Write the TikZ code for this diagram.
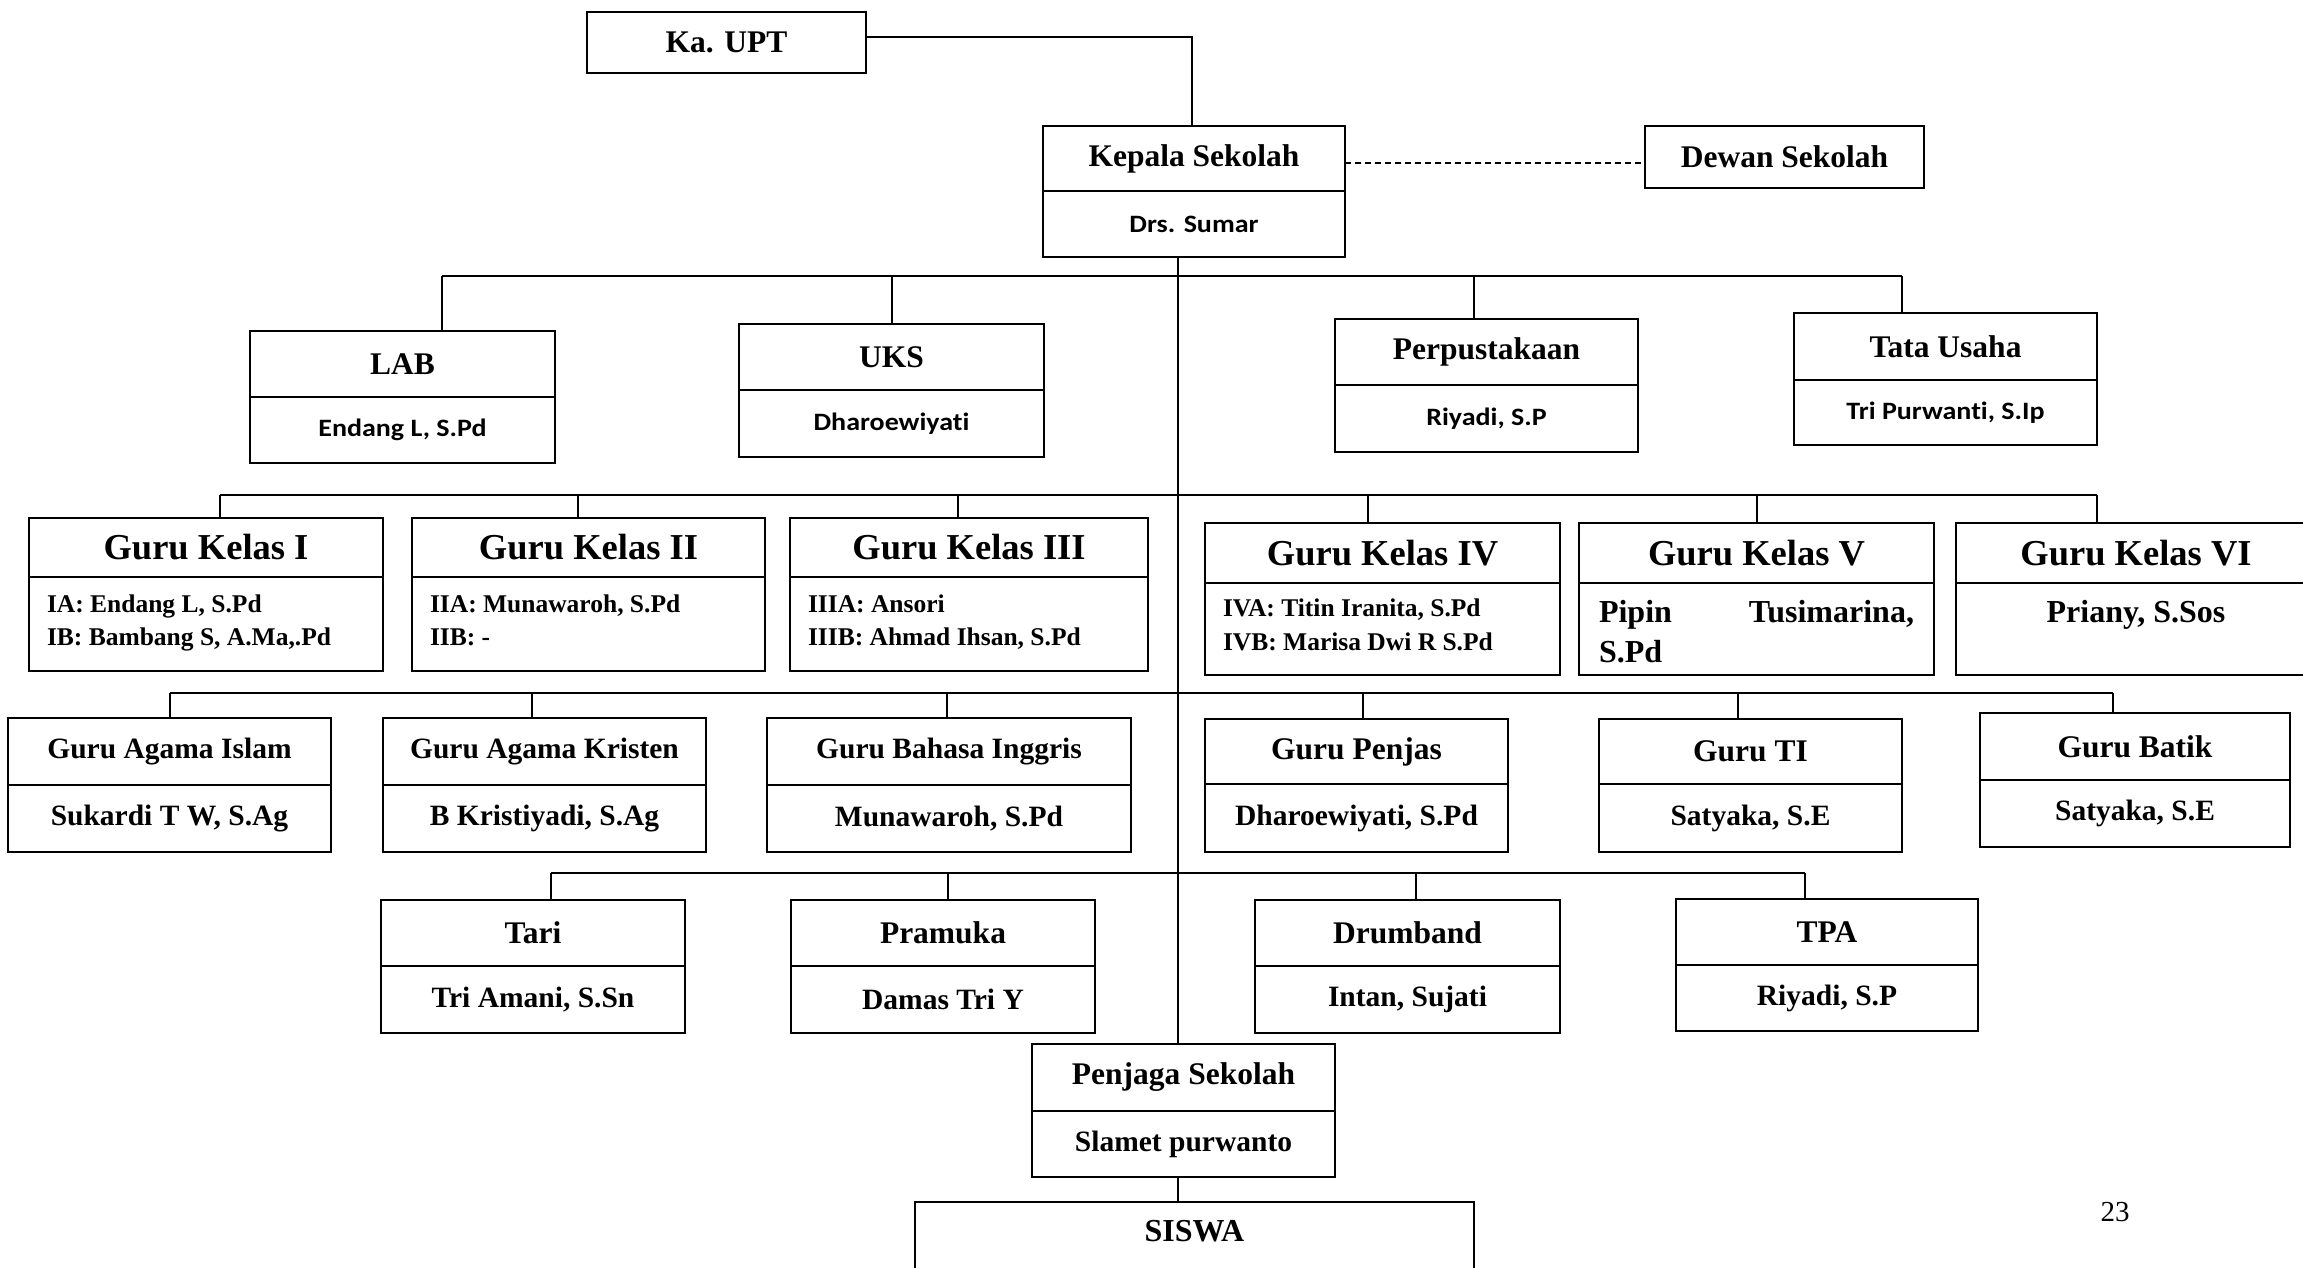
\documentclass[tikz,border=0pt]{standalone}
\usepackage{fontspec}
\setmainfont{Liberation Serif}
\newfontfamily\sansf{Carlito}[FakeStretch=1.12, Ligatures={NoCommon,NoDiscretionary}]
\newcommand{\myfs}[2]{\fontsize{#1}{#2}\selectfont}
\begin{document}
\begin{tikzpicture}[x=1pt,y=-1pt,
  bx/.style={draw, line width=2.4pt, inner sep=0pt, outer sep=0pt, align=center, anchor=north west},
  hd/.style={bx, font=\bfseries\myfs{31.5}{36}},
  hs/.style={bx, font=\bfseries\myfs{29.5}{34}},
  nm/.style={bx, anchor=north, font=\bfseries\myfs{29.5}{34}},
  sn/.style={bx, anchor=north, font=\sansf\bfseries\myfs{25}{30}},
  kh/.style={bx, font=\bfseries\myfs{36.5}{42}},
  kc/.style={bx, anchor=north, align=left},
  ln/.style={line width=2.8pt},
  dr/.style={line width=2pt}]
\useasboundingbox (0,0) rectangle (2303,1268);

% top
\node[hd, minimum width=279pt, minimum height=61pt] (kaupt) at (587,12) {Ka. UPT};
\node[hd, minimum width=302pt, minimum height=65pt] (kepala) at (1043,126) {Kepala Sekolah};
\node[sn, minimum width=302pt, minimum height=66pt] (sumar) at (kepala.south) {Drs. Sumar};
\node[hd, minimum width=279pt, minimum height=62pt] (dewan) at (1645,126) {Dewan Sekolah};
\draw[dr] ([yshift=5.5pt]kaupt.east) -| ([xshift=-2pt]kepala.north);
\draw[dr, dash pattern=on 6pt off 4pt] ([yshift=-4.5pt]kepala.east) -- ([yshift=-4.5pt]kepala.east -| dewan.west);

% row 1
\node[hd, minimum width=305pt, minimum height=66pt] (lab) at (250,331) {LAB};
\node[sn, minimum width=305pt, minimum height=66pt] (labn) at (lab.south) {Endang L, S.Pd};
\node[hd, minimum width=305pt, minimum height=66pt] (uks) at (739,324) {UKS};
\node[sn, minimum width=305pt, minimum height=67pt] (uksn) at (uks.south) {Dharoewiyati};
\node[hd, minimum width=303pt, minimum height=66pt] (perpus) at (1335,319) {Perpustakaan};
\node[sn, minimum width=303pt, minimum height=67pt] (perpusn) at (perpus.south) {Riyadi, S.P};
\node[hd, minimum width=303pt, minimum height=67pt] (tata) at (1794,313) {Tata Usaha};
\node[sn, minimum width=303pt, minimum height=65pt] (tatan) at (tata.south) {Tri Purwanti, S.Ip};

% row 2
\node[kh, minimum width=354pt, minimum height=59pt] (gk1) at (29,518) {Guru Kelas I};
\node[kc, minimum width=354pt, inner xsep=18pt] (gk1n) at (gk1.south)
  {\parbox[c][94pt][t]{318pt}{\bfseries\myfs{25.5}{33}\rule{0pt}{35.5pt}IA: Endang L, S.Pd\\IB: Bambang S, A.Ma,.Pd}};
\node[kh, minimum width=353pt, minimum height=59pt] (gk2) at (412,518) {Guru Kelas II};
\node[kc, minimum width=353pt, inner xsep=18pt] (gk2n) at (gk2.south)
  {\parbox[c][94pt][t]{317pt}{\bfseries\myfs{25.5}{33}\rule{0pt}{35.5pt}IIA: Munawaroh, S.Pd\\IIB: -}};
\node[kh, minimum width=358pt, minimum height=59pt] (gk3) at (790,518) {Guru Kelas III};
\node[kc, minimum width=358pt, inner xsep=18pt] (gk3n) at (gk3.south)
  {\parbox[c][94pt][t]{322pt}{\bfseries\myfs{25.5}{33}\rule{0pt}{35.5pt}IIIA: Ansori\\IIIB: Ahmad Ihsan, S.Pd}};
\node[kh, minimum width=355pt, minimum height=60pt] (gk4) at (1205,523) {Guru Kelas IV};
\node[kc, minimum width=355pt, inner xsep=18pt] (gk4n) at (gk4.south)
  {\parbox[c][92pt][t]{319pt}{\bfseries\myfs{25.5}{34}\rule{0pt}{33.5pt}IVA: Titin Iranita, S.Pd\\IVB: Marisa Dwi R S.Pd}};
\node[kh, minimum width=355pt, minimum height=60pt] (gk5) at (1579,523) {Guru Kelas V};
\node[kc, minimum width=355pt, inner xsep=20pt] (gk5n) at (gk5.south)
  {\parbox[c][92pt][t]{315pt}{\bfseries\myfs{32}{40}\rule{0pt}{39.5pt}Pipin\hfill Tusimarina,\\S.Pd}};
\node[kh, minimum width=360pt, minimum height=60pt] (gk6) at (1956,523) {Guru Kelas VI};
\node[kc, minimum width=360pt, inner xsep=20pt] (gk6n) at (gk6.south)
  {\parbox[c][92pt][t]{320pt}{\centering\bfseries\myfs{32}{40}\rule{0pt}{39.5pt}Priany, S.Sos}};

% row 3
\node[hs, minimum width=323pt, minimum height=67pt] (gai) at (8,718) {Guru Agama Islam};
\node[nm, minimum width=323pt, minimum height=67pt] (gain) at (gai.south) {Sukardi T W, S.Ag};
\node[hs, minimum width=323pt, minimum height=67pt] (gak) at (383,718) {Guru Agama Kristen};
\node[nm, minimum width=323pt, minimum height=67pt] (gakn) at (gak.south) {B Kristiyadi, S.Ag};
\node[hs, minimum width=364pt, minimum height=67pt] (gbi) at (767,718) {Guru Bahasa Inggris};
\node[nm, minimum width=364pt, minimum height=67pt] (gbin) at (gbi.south) {Munawaroh, S.Pd};
\node[hd, minimum width=303pt, minimum height=65pt] (gpj) at (1205,719) {Guru Penjas};
\node[nm, minimum width=303pt, minimum height=68pt] (gpjn) at (gpj.south) {Dharoewiyati, S.Pd};
\node[hd, minimum width=303pt, minimum height=65pt] (gti) at (1599,719) {Guru TI};
\node[nm, minimum width=303pt, minimum height=68pt] (gtin) at (gti.south) {Satyaka, S.E};
\node[hd, minimum width=310pt, minimum height=67pt] (gbt) at (1980,713) {Guru Batik};
\node[nm, minimum width=310pt, minimum height=67pt] (gbtn) at (gbt.south) {Satyaka, S.E};

% row 4
\node[hd, minimum width=304pt, minimum height=66pt] (tari) at (381,900) {Tari};
\node[nm, minimum width=304pt, minimum height=67pt] (tarin) at (tari.south) {Tri Amani, S.Sn};
\node[hd, minimum width=304pt, minimum height=66pt] (pram) at (791,900) {Pramuka};
\node[nm, minimum width=304pt, minimum height=67pt] (pramn) at (pram.south) {Damas Tri Y};
\node[hd, minimum width=305pt, minimum height=66pt] (drum) at (1255,900) {Drumband};
\node[nm, minimum width=305pt, minimum height=67pt] (drumn) at (drum.south) {Intan, Sujati};
\node[hd, minimum width=302pt, minimum height=66pt] (tpa) at (1676,899) {TPA};
\node[nm, minimum width=302pt, minimum height=66pt] (tpan) at (tpa.south) {Riyadi, S.P};

% bottom
\node[hd, minimum width=303pt, minimum height=67pt] (penj) at (1032,1044) {Penjaga Sekolah};
\node[nm, minimum width=303pt, minimum height=66pt] (penjn) at (penj.south) {Slamet purwanto};
\node[bx, font=\bfseries\myfs{32}{36}] (siswa) at (915,1202)
  {\parbox[c][120pt][t]{559pt}{\centering\rule{0pt}{39pt}SISWA}};
\node[font=\myfs{29}{34}] (pagenum) at (2115,1212) {23};

% spine
\coordinate (sp) at (1178,0);
\draw[dr] (sumar.south -| sp) -- (penj.north -| sp);
\draw[dr] (penjn.south -| sp) -- (siswa.north -| sp);

% bus 1
\coordinate (a1) at (442,276); \coordinate (a2) at (892,276);
\coordinate (a3) at (1474,276); \coordinate (a4) at (1902,276);
\draw[ln] (a1) -- (a4);
\draw[dr] (a1) -- (a1 |- lab.north);
\draw[dr] (a2) -- (a2 |- uks.north);
\draw[dr] (a3) -- (a3 |- perpus.north);
\draw[dr] (a4) -- (a4 |- tata.north);

% bus 2
\coordinate (b1) at (220,495); \coordinate (b2) at (578,495);
\coordinate (b3) at (958,495); \coordinate (b4) at (1368,495);
\coordinate (b5) at (1757,495); \coordinate (b6) at (2097,495);
\draw[ln] (b1) -- (b6);
\draw[dr] (b1) -- (b1 |- gk1.north);
\draw[dr] (b2) -- (b2 |- gk2.north);
\draw[dr] (b3) -- (b3 |- gk3.north);
\draw[dr] (b4) -- (b4 |- gk4.north);
\draw[dr] (b5) -- (b5 |- gk5.north);
\draw[dr] (b6) -- (b6 |- gk6.north);

% bus 3
\coordinate (c1) at (170,693); \coordinate (c2) at (532,693);
\coordinate (c3) at (947,693); \coordinate (c4) at (1363,693);
\coordinate (c5) at (1738,693); \coordinate (c6) at (2113,693);
\draw[ln] (c1) -- (c6);
\draw[dr] (c1) -- (c1 |- gai.north);
\draw[dr] (c2) -- (c2 |- gak.north);
\draw[dr] (c3) -- (c3 |- gbi.north);
\draw[dr] (c4) -- (c4 |- gpj.north);
\draw[dr] (c5) -- (c5 |- gti.north);
\draw[dr] (c6) -- (c6 |- gbt.north);

% bus 4
\coordinate (e1) at (551,873); \coordinate (e2) at (948,873);
\coordinate (e3) at (1416,873); \coordinate (e4) at (1805,873);
\draw[ln] (e1) -- (e4);
\draw[dr] (e1) -- (e1 |- tari.north);
\draw[dr] (e2) -- (e2 |- pram.north);
\draw[dr] (e3) -- (e3 |- drum.north);
\draw[dr] (e4) -- (e4 |- tpa.north);
\end{tikzpicture}
\end{document}
